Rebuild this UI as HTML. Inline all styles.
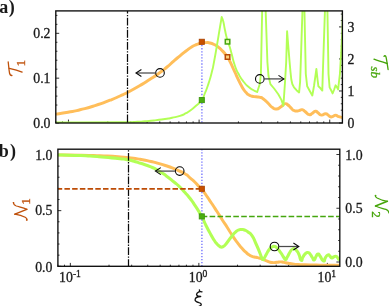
<!DOCTYPE html>
<html><head><meta charset="utf-8"><title>chart</title>
<style>
html,body{margin:0;padding:0;background:#fff;}
body{width:389px;height:306px;overflow:hidden;position:relative;font-family:"Liberation Serif",serif;}
svg text{font-family:"Liberation Serif",serif;}
svg{will-change:transform;}
</style></head><body>
<svg width="389" height="306" viewBox="0 0 389 306" style="position:absolute;left:0;top:0">
<defs><clipPath id="ct"><rect x="55.80" y="10.90" width="286.60" height="112.10"/></clipPath>
<clipPath id="cb"><rect x="57.90" y="149.20" width="281.90" height="117.10"/></clipPath></defs>
<path d="M55.80,123.00 L59.20,123.00 M55.80,114.03 L57.40,114.03 M55.80,105.06 L57.40,105.06 M55.80,96.10 L57.40,96.10 M55.80,87.13 L57.40,87.13 M55.80,78.16 L59.20,78.16 M55.80,69.19 L57.40,69.19 M55.80,60.22 L57.40,60.22 M55.80,51.26 L57.40,51.26 M55.80,42.29 L57.40,42.29 M55.80,33.32 L59.20,33.32 M55.80,24.35 L57.40,24.35 M55.80,15.38 L57.40,15.38 M342.40,123.00 L339.00,123.00 M342.40,116.59 L340.80,116.59 M342.40,110.19 L340.80,110.19 M342.40,103.78 L340.80,103.78 M342.40,97.38 L340.80,97.38 M342.40,90.97 L339.00,90.97 M342.40,84.57 L340.80,84.57 M342.40,78.16 L340.80,78.16 M342.40,71.75 L340.80,71.75 M342.40,65.35 L340.80,65.35 M342.40,58.94 L339.00,58.94 M342.40,52.54 L340.80,52.54 M342.40,46.13 L340.80,46.13 M342.40,39.73 L340.80,39.73 M342.40,33.32 L340.80,33.32 M342.40,26.91 L339.00,26.91 M342.40,20.51 L340.80,20.51 M342.40,14.10 L340.80,14.10 M55.80,123.00 L55.80,121.40 M62.48,123.00 L62.48,121.40 M68.46,123.00 L68.46,119.60 M107.79,123.00 L107.79,121.40 M130.79,123.00 L130.79,121.40 M147.11,123.00 L147.11,121.40 M159.77,123.00 L159.77,121.40 M170.12,123.00 L170.12,121.40 M178.86,123.00 L178.86,121.40 M186.44,123.00 L186.44,121.40 M193.12,123.00 L193.12,121.40 M199.10,123.00 L199.10,119.60 M238.43,123.00 L238.43,121.40 M261.43,123.00 L261.43,121.40 M277.75,123.00 L277.75,121.40 M290.41,123.00 L290.41,121.40 M300.76,123.00 L300.76,121.40 M309.50,123.00 L309.50,121.40 M317.08,123.00 L317.08,121.40 M323.76,123.00 L323.76,121.40 M329.74,123.00 L329.74,119.60 M57.90,266.30 L61.30,266.30 M57.90,255.17 L59.50,255.17 M57.90,244.04 L59.50,244.04 M57.90,232.91 L59.50,232.91 M57.90,221.78 L59.50,221.78 M57.90,210.65 L61.30,210.65 M57.90,199.52 L59.50,199.52 M57.90,188.39 L59.50,188.39 M57.90,177.26 L59.50,177.26 M57.90,166.13 L59.50,166.13 M57.90,155.00 L61.30,155.00 M339.80,262.00 L336.40,262.00 M339.80,251.25 L338.20,251.25 M339.80,240.50 L338.20,240.50 M339.80,229.75 L338.20,229.75 M339.80,219.00 L338.20,219.00 M339.80,208.25 L336.40,208.25 M339.80,197.50 L338.20,197.50 M339.80,186.75 L338.20,186.75 M339.80,176.00 L338.20,176.00 M339.80,165.25 L338.20,165.25 M339.80,154.50 L336.40,154.50 M57.90,266.30 L57.90,264.70 M64.47,266.30 L64.47,264.70 M70.35,266.30 L70.35,262.90 M109.03,266.30 L109.03,264.70 M131.66,266.30 L131.66,264.70 M147.72,266.30 L147.72,264.70 M160.17,266.30 L160.17,264.70 M170.34,266.30 L170.34,264.70 M178.95,266.30 L178.95,264.70 M186.40,266.30 L186.40,264.70 M192.97,266.30 L192.97,264.70 M198.85,266.30 L198.85,262.90 M237.53,266.30 L237.53,264.70 M260.16,266.30 L260.16,264.70 M276.21,266.30 L276.21,264.70 M288.67,266.30 L288.67,264.70 M298.84,266.30 L298.84,264.70 M307.44,266.30 L307.44,264.70 M314.89,266.30 L314.89,264.70 M321.47,266.30 L321.47,264.70 M327.35,266.30 L327.35,262.90" stroke="#0d0d0d" stroke-width="0.85" fill="none"/>
<g clip-path="url(#ct)" fill="none" stroke-linecap="butt">
<path d="M55.80,114.10 C59.87,113.50 59.93,113.73 68.00,112.30 C76.07,110.87 71.00,112.03 80.00,109.80 C89.00,107.57 85.00,108.80 95.00,105.60 C105.00,102.40 101.67,103.40 110.00,100.20 C118.33,97.00 114.07,98.67 120.00,96.00 C125.93,93.33 121.13,95.70 127.80,92.20 C134.47,88.70 132.60,89.80 140.00,85.50 C147.40,81.20 143.33,83.63 150.00,79.30 C156.67,74.97 154.33,76.60 160.00,72.50 C165.67,68.40 162.33,70.90 167.00,67.00 C171.67,63.10 169.67,64.53 174.00,60.80 C178.33,57.07 176.00,59.07 180.00,55.80 C184.00,52.53 182.00,54.00 186.00,51.00 C190.00,48.00 188.33,49.00 192.00,46.80 C195.67,44.60 193.80,45.67 197.00,44.40 C200.20,43.13 198.60,43.60 201.60,43.00 C204.60,42.40 203.20,42.60 206.00,42.60 C208.80,42.60 207.33,42.37 210.00,43.00 C212.67,43.63 211.33,43.20 214.00,44.50 C216.67,45.80 215.33,44.90 218.00,46.90 C220.67,48.90 219.67,48.20 222.00,50.50 C224.33,52.80 223.17,51.63 225.00,53.80 C226.83,55.97 225.73,54.20 227.50,57.00 C229.27,59.80 228.40,58.37 230.30,62.20 C232.20,66.03 231.53,64.90 233.20,68.50 C234.87,72.10 233.87,69.87 235.30,73.00 C236.73,76.13 236.03,74.77 237.50,77.90 C238.97,81.03 238.27,79.57 239.70,82.40 C241.13,85.23 240.37,83.87 241.80,86.40 C243.23,88.93 242.43,87.80 244.00,90.00 C245.57,92.20 244.83,91.33 246.50,93.00 C248.17,94.67 247.17,93.93 249.00,95.00 C250.83,96.07 249.67,95.60 252.00,96.20 C254.33,96.80 253.23,96.43 256.00,96.80 C258.77,97.17 257.97,96.63 260.30,97.30 C262.63,97.97 260.97,97.40 263.00,98.80 C265.03,100.20 264.23,99.50 266.40,101.50 C268.57,103.50 267.47,102.77 269.50,104.80 C271.53,106.83 270.17,106.20 272.50,107.60 C274.83,109.00 273.80,109.20 276.50,109.00 C279.20,108.80 278.43,108.33 280.60,107.00 C282.77,105.67 281.33,106.13 283.00,105.00 C284.67,103.87 283.93,103.60 285.60,103.60 C287.27,103.60 286.30,103.67 288.00,105.00 C289.70,106.33 289.03,105.93 290.70,107.60 C292.37,109.27 291.20,108.87 293.00,110.00 C294.80,111.13 294.10,110.80 296.10,111.00 C298.10,111.20 296.97,111.03 299.00,110.60 C301.03,110.17 300.20,109.40 302.20,109.70 C304.20,110.00 302.63,109.83 305.00,111.50 C307.37,113.17 306.97,114.03 309.30,114.70 C311.63,115.37 309.97,114.63 312.00,113.50 C314.03,112.37 313.40,111.53 315.40,111.30 C317.40,111.07 316.00,111.53 318.00,112.80 C320.00,114.07 318.90,114.80 321.40,115.10 C323.90,115.40 323.30,113.73 325.50,113.70 C327.70,113.67 326.30,113.97 328.00,115.00 C329.70,116.03 328.93,116.37 330.60,116.80 C332.27,117.23 331.33,116.80 333.00,116.30 C334.67,115.80 333.93,115.30 335.60,115.30 C337.27,115.30 336.30,115.67 338.00,116.30 C339.70,116.93 339.23,116.80 340.70,117.20 C342.17,117.60 341.83,117.40 342.40,117.50" stroke="#ffbe5a" stroke-width="2.95" stroke-linejoin="round"/>
<path d="M55.80,122.40 C77.20,122.37 93.60,122.47 120.00,122.30 C146.40,122.13 126.67,122.23 135.00,121.90 C143.33,121.57 138.33,121.80 145.00,121.30 C151.67,120.80 148.33,121.17 155.00,120.40 C161.67,119.63 159.33,119.87 165.00,119.00 C170.67,118.13 167.00,118.83 172.00,117.80 C177.00,116.77 175.33,117.43 180.00,115.90 C184.67,114.37 182.57,115.03 186.00,113.20 C189.43,111.37 186.97,112.87 190.30,110.40 C193.63,107.93 192.23,109.27 196.00,105.80 C199.77,102.33 198.60,104.27 201.60,100.00 C204.60,95.73 202.60,98.80 205.00,93.00 C207.40,87.20 206.50,89.70 208.80,82.60 C211.10,75.50 210.17,78.57 211.90,71.70 C213.63,64.83 212.30,70.90 214.00,62.00 C215.70,53.10 215.17,55.67 217.00,45.00 C218.83,34.33 217.93,39.33 219.50,30.00 C221.07,20.67 220.97,21.33 221.70,17.00L221.70,17.00 C222.23,18.50 222.23,17.23 223.30,21.50 C224.37,25.77 223.60,23.80 224.90,29.80 C226.20,35.80 225.63,33.93 227.20,39.50 C228.77,45.07 228.07,41.47 229.60,46.50 C231.13,51.53 230.13,48.53 231.80,54.60 C233.47,60.67 232.47,58.47 234.60,64.70 C236.73,70.93 235.30,67.77 238.20,73.30 C241.10,78.83 239.70,76.63 243.30,81.30 C246.90,85.97 245.60,84.33 249.00,87.30 C252.40,90.27 250.77,88.63 253.50,90.20 C256.23,91.77 255.97,91.40 257.20,92.00L257.20,92.00 L259.80,84.00 L260.90,74.00 L262.20,9.00 L265.60,9.00 L267.40,62.00 L268.50,76.00 L270.40,84.10 L274.10,88.50 L278.30,94.30 L281.40,99.90 L283.40,105.80 L285.00,82.30 L286.20,62.00 L287.10,31.30 L288.60,50.00 L289.60,62.00 L290.50,72.00 L291.30,79.50 L292.30,84.00 L294.00,87.40 L296.50,90.20 L299.10,92.40 L300.10,82.00 L300.80,62.00 L302.50,9.00 L304.40,9.00 L305.80,74.00 L307.20,86.30 L309.50,90.50 L312.30,95.50 L314.00,86.00 L316.40,69.00 L317.60,80.00 L318.40,86.30 L320.50,88.30 L322.30,90.60 L322.90,71.00 L325.00,9.00 L327.40,9.00 L328.50,74.00 L329.60,87.40 L331.00,90.00 L332.60,93.40 L334.00,90.00 L335.60,85.30 L337.00,87.30 L338.10,89.40 L339.90,74.00 L341.20,52.00 L342.30,32.00 L343.00,9.00" stroke="#b2ff55" stroke-width="1.9" stroke-linejoin="round"/>
<line x1="127.5" y1="10.90" x2="127.5" y2="123.00" stroke="#0a0a0a" stroke-width="1.25" stroke-dasharray="7.9 1.4 1.4 1.4" stroke-dashoffset="5.3"/>
<line x1="201.9" y1="42" x2="201.9" y2="123.00" stroke="#7676ff" stroke-width="1.4" stroke-dasharray="1.3 1.75"/>
</g>
<rect x="199.25" y="39.25" width="5.10" height="5.10" fill="#c85000" stroke="#ac4400" stroke-width="0.90"/>
<rect x="199.25" y="97.55" width="5.10" height="5.10" fill="#4aae10" stroke="#3c960c" stroke-width="0.90"/>
<rect x="225.30" y="39.45" width="4.50" height="4.50" fill="#eaffae" stroke="#45a60f" stroke-width="1.50"/>
<rect x="225.30" y="54.75" width="4.50" height="4.50" fill="#ffd07a" stroke="#b84a08" stroke-width="1.50"/>
<circle cx="160.00" cy="72.90" r="4.30" fill="none" stroke="#0a0a0a" stroke-width="1.1"/>
<path d="M155.70,73.00 L136.80,73.00" fill="none" stroke="#4a4a4a" stroke-width="1.25"/>
<path d="M141.40,69.50 L136.00,73.00 L141.40,76.50" fill="none" stroke="#0a0a0a" stroke-width="1.1" stroke-linejoin="miter"/>
<circle cx="259.80" cy="78.90" r="4.30" fill="none" stroke="#0a0a0a" stroke-width="1.1"/>
<path d="M264.10,78.90 L283.10,78.90" fill="none" stroke="#4a4a4a" stroke-width="1.25"/>
<path d="M278.50,75.40 L283.90,78.90 L278.50,82.40" fill="none" stroke="#0a0a0a" stroke-width="1.1" stroke-linejoin="miter"/>
<rect x="55.80" y="10.90" width="286.60" height="112.10" fill="none" stroke="#0d0d0d" stroke-width="1.35"/>
<g clip-path="url(#cb)" fill="none">
<path d="M57.80,154.90 C65.20,155.00 65.93,154.90 80.00,155.20 C94.07,155.50 88.33,155.37 100.00,155.80 C111.67,156.23 105.47,155.83 115.00,156.50 C124.53,157.17 120.27,156.87 128.60,157.80 C136.93,158.73 132.57,158.07 140.00,159.30 C147.43,160.53 143.90,159.87 150.90,161.50 C157.90,163.13 154.17,162.17 161.00,164.20 C167.83,166.23 165.17,165.30 171.40,167.60 C177.63,169.90 174.77,168.77 179.70,171.10 C184.63,173.43 182.77,172.33 186.20,174.60 C189.63,176.87 187.07,175.33 190.00,177.90 C192.93,180.47 191.93,179.33 195.00,182.30 C198.07,185.27 197.00,184.63 199.20,186.80 C201.40,188.97 199.33,186.07 201.60,188.80 C203.87,191.53 202.90,190.53 206.00,195.00 C209.10,199.47 207.23,196.70 210.90,202.20 C214.57,207.70 213.23,205.67 217.00,211.50 C220.77,217.33 218.77,214.37 222.20,219.70 C225.63,225.03 224.03,222.40 227.30,227.50 C230.57,232.60 228.57,229.87 232.00,235.00 C235.43,240.13 234.27,238.47 237.60,242.90 C240.93,247.33 239.27,245.20 242.00,248.30 C244.73,251.40 243.47,250.03 245.80,252.20 C248.13,254.37 246.93,253.43 249.00,254.80 C251.07,256.17 249.67,255.47 252.00,256.30 C254.33,257.13 253.60,256.73 256.00,257.30 C258.40,257.87 257.20,257.43 259.20,258.00 C261.20,258.57 259.97,258.23 262.00,259.00 C264.03,259.77 262.97,259.37 265.30,260.30 C267.63,261.23 266.43,261.03 269.00,261.80 C271.57,262.57 270.33,262.43 273.00,262.60 C275.67,262.77 274.43,262.53 277.00,262.30 C279.57,262.07 278.37,261.87 280.70,261.90 C283.03,261.93 281.47,261.93 284.00,262.40 C286.53,262.87 284.97,262.73 288.30,263.30 C291.63,263.87 290.10,263.67 294.00,264.10 C297.90,264.53 294.67,264.33 300.00,264.60 C305.33,264.87 303.33,264.73 310.00,264.90 C316.67,265.07 310.07,264.97 320.00,265.10 C329.93,265.23 333.20,265.23 339.80,265.30" stroke="#ffbe5a" stroke-width="2.95" stroke-linejoin="round"/>
<path d="M57.80,155.00 C63.53,155.13 64.27,155.03 75.00,155.40 C85.73,155.77 80.00,155.47 90.00,156.10 C100.00,156.73 95.00,156.43 105.00,157.30 C115.00,158.17 112.13,157.80 120.00,158.70 C127.87,159.60 123.47,159.00 128.60,160.00 C133.73,161.00 131.40,160.60 135.40,161.70 C139.40,162.80 135.43,161.57 140.60,163.30 C145.77,165.03 144.90,164.37 150.90,166.90 C156.90,169.43 153.47,167.90 158.60,170.90 C163.73,173.90 161.17,172.20 166.30,175.90 C171.43,179.60 169.63,178.43 174.00,182.00 C178.37,185.57 175.73,183.10 179.40,186.60 C183.07,190.10 181.37,188.43 185.00,192.50 C188.63,196.57 186.93,194.43 190.30,198.80 C193.67,203.17 191.33,199.77 195.10,205.60 C198.87,211.43 197.97,209.67 201.60,216.30 C205.23,222.93 202.90,219.37 206.00,225.50 C209.10,231.63 208.23,229.87 210.90,234.70 C213.57,239.53 211.97,236.90 214.00,240.00 C216.03,243.10 215.17,241.93 217.00,244.00 C218.83,246.07 218.10,245.20 219.50,246.20 C220.90,247.20 220.03,246.87 221.20,247.00 C222.37,247.13 221.40,247.60 223.00,246.60 C224.60,245.60 223.20,247.30 226.00,244.00 C228.80,240.70 228.07,240.80 231.40,236.70 C234.73,232.60 233.47,233.97 236.00,231.70 C238.53,229.43 237.10,230.63 239.00,229.90 C240.90,229.17 239.87,229.47 241.70,229.50 C243.53,229.53 242.40,229.17 244.50,230.00 C246.60,230.83 245.50,230.10 248.00,232.00 C250.50,233.90 249.30,231.70 252.00,235.70 C254.70,239.70 253.43,238.17 256.10,244.00 C258.77,249.83 258.17,248.70 260.00,253.20 C261.83,257.70 260.60,255.40 261.60,257.50 C262.60,259.60 262.10,259.33 263.00,259.50 C263.90,259.67 263.13,259.83 264.30,258.00 C265.47,256.17 264.87,256.83 266.50,254.00 C268.13,251.17 267.37,251.83 269.20,249.50 C271.03,247.17 270.23,248.00 272.00,247.00 C273.77,246.00 272.83,246.17 274.50,246.50 C276.17,246.83 274.93,245.97 277.00,248.00 C279.07,250.03 278.53,249.60 280.70,252.60 C282.87,255.60 281.87,254.70 283.50,257.00 C285.13,259.30 284.33,259.50 285.60,259.50 C286.87,259.50 285.63,259.83 287.30,257.00 C288.97,254.17 288.83,253.60 290.60,251.00 C292.37,248.40 291.30,249.93 292.60,249.20 C293.90,248.47 293.20,248.37 294.50,248.80 C295.80,249.23 295.00,248.60 296.50,250.50 C298.00,252.40 297.47,251.23 299.00,254.50 C300.53,257.77 299.77,259.47 301.10,260.30 C302.43,261.13 301.53,259.27 303.00,257.00 C304.47,254.73 303.83,254.97 305.50,253.50 C307.17,252.03 306.50,252.43 308.00,252.60 C309.50,252.77 308.57,252.37 310.00,254.00 C311.43,255.63 310.90,255.50 312.30,257.50 C313.70,259.50 312.97,260.33 314.20,260.00 C315.43,259.67 314.73,258.47 316.00,256.50 C317.27,254.53 316.67,254.27 318.00,254.10 C319.33,253.93 318.20,253.70 320.00,256.00 C321.80,258.30 321.57,260.50 323.40,261.00 C325.23,261.50 323.97,259.53 325.50,257.50 C327.03,255.47 326.50,255.33 328.00,254.90 C329.50,254.47 328.73,255.17 330.00,256.20 C331.27,257.23 330.47,257.80 331.80,258.00 C333.13,258.20 332.47,257.33 334.00,256.80 C335.53,256.27 335.13,256.00 336.40,256.40 C337.67,256.80 336.93,256.97 337.80,258.00 C338.67,259.03 338.33,259.50 339.00,259.50 C339.67,259.50 339.53,258.50 339.80,258.00" stroke="#b2ff55" stroke-width="3.05" stroke-linejoin="round"/>
<line x1="128.5" y1="149.20" x2="128.5" y2="266.30" stroke="#0a0a0a" stroke-width="1.25" stroke-dasharray="7.7 1.35 1.4 1.35" stroke-dashoffset="8.05"/>
<line x1="201.9" y1="149.20" x2="201.9" y2="266.30" stroke="#7676ff" stroke-width="1.4" stroke-dasharray="1.3 1.75"/>
<line x1="57.90" y1="188.8" x2="201.6" y2="188.8" stroke="#bd4c06" stroke-width="1.75" stroke-dasharray="5.5 2.22" stroke-dashoffset="1.2"/>
<line x1="201.7" y1="216.5" x2="339.80" y2="216.5" stroke="#45a60f" stroke-width="1.65" stroke-dasharray="5.6 2.3"/>
</g>
<rect x="199.25" y="186.25" width="5.10" height="5.10" fill="#c85000" stroke="#ac4400" stroke-width="0.90"/>
<rect x="199.25" y="213.85" width="5.10" height="5.10" fill="#4aae10" stroke="#3c960c" stroke-width="0.90"/>
<circle cx="179.70" cy="171.10" r="4.30" fill="none" stroke="#0a0a0a" stroke-width="1.1"/>
<path d="M175.40,171.10 L156.20,171.10" fill="none" stroke="#4a4a4a" stroke-width="1.25"/>
<path d="M160.80,167.60 L155.40,171.10 L160.80,174.60" fill="none" stroke="#0a0a0a" stroke-width="1.1" stroke-linejoin="miter"/>
<circle cx="274.50" cy="246.50" r="4.30" fill="none" stroke="#0a0a0a" stroke-width="1.1"/>
<path d="M278.80,246.50 L298.00,246.50" fill="none" stroke="#4a4a4a" stroke-width="1.25"/>
<path d="M293.40,243.00 L298.80,246.50 L293.40,250.00" fill="none" stroke="#0a0a0a" stroke-width="1.1" stroke-linejoin="miter"/>
<rect x="57.90" y="149.20" width="281.90" height="117.10" fill="none" stroke="#0d0d0d" stroke-width="1.35"/>
<text x="50.50" y="128.00" font-size="13.80" text-anchor="end" fill="#1a1a1a" stroke="#1a1a1a" stroke-width="0.3" >0.0</text>
<text x="50.50" y="83.16" font-size="13.80" text-anchor="end" fill="#1a1a1a" stroke="#1a1a1a" stroke-width="0.3" >0.1</text>
<text x="50.50" y="38.32" font-size="13.80" text-anchor="end" fill="#1a1a1a" stroke="#1a1a1a" stroke-width="0.3" >0.2</text>
<text x="347.60" y="128.00" font-size="13.80" text-anchor="start" fill="#1a1a1a" stroke="#1a1a1a" stroke-width="0.3" >0</text>
<text x="347.60" y="95.97" font-size="13.80" text-anchor="start" fill="#1a1a1a" stroke="#1a1a1a" stroke-width="0.3" >1</text>
<text x="347.60" y="63.94" font-size="13.80" text-anchor="start" fill="#1a1a1a" stroke="#1a1a1a" stroke-width="0.3" >2</text>
<text x="347.60" y="31.91" font-size="13.80" text-anchor="start" fill="#1a1a1a" stroke="#1a1a1a" stroke-width="0.3" >3</text>
<text x="52.40" y="272.00" font-size="13.80" text-anchor="end" fill="#1a1a1a" stroke="#1a1a1a" stroke-width="0.3" >0.0</text>
<text x="52.40" y="215.25" font-size="13.80" text-anchor="end" fill="#1a1a1a" stroke="#1a1a1a" stroke-width="0.3" >0.5</text>
<text x="52.40" y="160.20" font-size="13.80" text-anchor="end" fill="#1a1a1a" stroke="#1a1a1a" stroke-width="0.3" >1.0</text>
<text x="345.30" y="267.00" font-size="13.80" text-anchor="start" fill="#1a1a1a" stroke="#1a1a1a" stroke-width="0.3" >0.0</text>
<text x="345.30" y="213.25" font-size="13.80" text-anchor="start" fill="#1a1a1a" stroke="#1a1a1a" stroke-width="0.3" >0.5</text>
<text x="345.30" y="159.50" font-size="13.80" text-anchor="start" fill="#1a1a1a" stroke="#1a1a1a" stroke-width="0.3" >1.0</text>
<text x="59.10" y="281.9" font-size="13.8" fill="#1a1a1a" stroke="#1a1a1a" stroke-width="0.3">10<tspan dy="-4.8" font-size="9.6">-1</tspan></text>
<text x="188.80" y="281.9" font-size="13.8" fill="#1a1a1a" stroke="#1a1a1a" stroke-width="0.3">10<tspan dy="-4.8" font-size="9.6">0</tspan></text>
<text x="317.50" y="281.9" font-size="13.8" fill="#1a1a1a" stroke="#1a1a1a" stroke-width="0.3">10<tspan dy="-4.8" font-size="9.6">1</tspan></text>
<path d="M199.4,289.8 L199.7,291.5 M202.0,291.8 C200.5,291.4 199.6,291.5 198.8,291.9 C197.2,292.7 196.4,293.6 196.6,294.6 C196.8,295.8 198.2,296.4 200.7,296.5 C197.5,296.6 195.2,298 195.1,299.8 C195.0,301.2 196.5,301.9 199.0,302.6 C200.6,303.0 201.4,303.8 201.2,304.6 C201.0,305.5 200.2,306 199.2,306.2" fill="none" stroke="#111" stroke-width="1.3" stroke-linecap="round" stroke-linejoin="round"/>
<text x="-0.8" y="12.9" font-size="18" font-weight="bold" fill="#1a1a1a">a</text>
<text x="8.7" y="12.9" font-size="18" fill="#1a1a1a" font-weight="bold">)</text>
<text x="-1.3" y="156.5" font-size="18" font-weight="bold" fill="#1a1a1a">b</text>
<text x="10.0" y="156.6" font-size="18" fill="#1a1a1a" font-weight="bold">)</text>
<path d="M8.2,62.0 C8.6,65 8.9,69.5 9.5,73.0 C9.9,74.8 10.6,75.6 11.9,75.5" fill="none" stroke="#bf500a" stroke-width="1.30" stroke-linecap="round" stroke-linejoin="round"/>
<path d="M9.3,68.4 C13.5,69.4 18,70.6 22.1,72.1" fill="none" stroke="#bf500a" stroke-width="1.40" stroke-linecap="round" stroke-linejoin="round"/>
<text transform="translate(24.9,66.4) rotate(-90)" font-size="13" fill="#bf500a" stroke="#bf500a" stroke-width="0.35">1</text>
<path d="M384.0,56.4 C384.4,55.5 385.6,55.4 386.0,56.9 C386.7,60 387.4,65 388.1,69.5" fill="none" stroke="#46a50a" stroke-width="1.30" stroke-linecap="round" stroke-linejoin="round"/>
<path d="M387.2,63.5 C383,62.2 378.5,60.8 374.0,59.2" fill="none" stroke="#46a50a" stroke-width="1.40" stroke-linecap="round" stroke-linejoin="round"/>
<text transform="translate(371.4,66.4) rotate(90)" font-size="13" font-style="italic" fill="#46a50a" stroke="#46a50a" stroke-width="0.3">sb</text>
<path d="M13.4,202.5 C13.5,204.2 14.6,205.4 16.3,206.0 C19.5,207.0 23.5,207.6 26.8,209.4" fill="none" stroke="#bf500a" stroke-width="1.20" stroke-linecap="round" stroke-linejoin="round"/>
<path d="M26.8,209.4 L14.9,214.1" fill="none" stroke="#bf500a" stroke-width="1.55" stroke-linecap="round" stroke-linejoin="round"/>
<path d="M14.9,214.1 C18.5,214.6 22.5,215.8 25.2,217.3 C26.5,218.1 27.2,219.0 27.0,219.8" fill="none" stroke="#bf500a" stroke-width="1.20" stroke-linecap="round" stroke-linejoin="round"/>
<circle cx="26.7" cy="219.9" r="0.85" fill="#bf500a"/>
<circle cx="13.5" cy="202.7" r="0.8" fill="#bf500a"/>
<text transform="translate(29.8,204.8) rotate(-90)" font-size="13" fill="#bf500a" stroke="#bf500a" stroke-width="0.35">1</text>
<path d="M387.4,201.3 C383.8,200.8 379.8,199.6 377.1,198.1 C375.8,197.3 375.1,196.4 375.3,195.6" fill="none" stroke="#46a50a" stroke-width="1.20" stroke-linecap="round" stroke-linejoin="round"/>
<path d="M375.5,206.0 L387.4,201.3" fill="none" stroke="#46a50a" stroke-width="1.55" stroke-linecap="round" stroke-linejoin="round"/>
<path d="M388.9,212.9 C388.8,211.2 387.7,210.0 386.0,209.4 C382.8,208.4 378.8,207.8 375.5,206.0" fill="none" stroke="#46a50a" stroke-width="1.20" stroke-linecap="round" stroke-linejoin="round"/>
<circle cx="375.6" cy="195.5" r="0.85" fill="#46a50a"/>
<text transform="translate(371.6,211.3) rotate(90)" font-size="13" fill="#46a50a" stroke="#46a50a" stroke-width="0.35">2</text>
</svg>
</body></html>
